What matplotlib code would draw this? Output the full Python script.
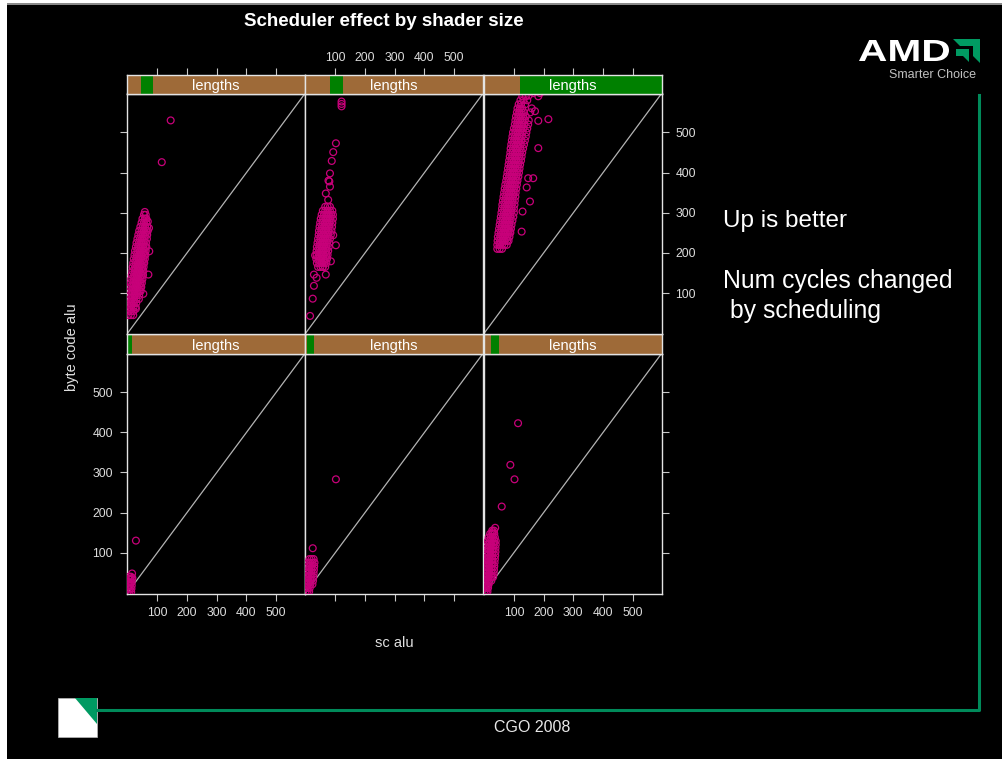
import matplotlib
matplotlib.use('Agg')
import matplotlib.pyplot as plt
from matplotlib.patches import Rectangle, Polygon, PathPatch
from matplotlib.textpath import TextPath
from matplotlib.font_manager import FontProperties
from matplotlib.transforms import Affine2D

plt.rcParams['font.family'] = ['Liberation Sans', 'DejaVu Sans']

# --- data (sc alu, byte code alu), one block per panel ---
# rows: (byte code alu, [sc alu values at that height])
# panel order follows lattice: bottom-left, bottom-mid, bottom-right, top-left, top-mid, top-right
p1_rows = [(2, [0, 6, 12]), (10, [1, 7, 13]), (18, [2, 8, 14]), (26, [2, 8, 14]),
           (34, [3, 9, 14]), (40, [5, 11])]
p1_extra_x = [28, 15, 16]
p1_extra_y = [130, 48, 37]

p2_rows = [(3, [0, 6, 12]), (12, [1, 7, 14]), (21, [2, 9, 16, 23]), (30, [3, 10, 17, 25]),
           (39, [4, 11, 18, 26]), (48, [5, 12, 19, 27]), (57, [6, 13, 20, 28]),
           (66, [7, 14, 21, 29]), (75, [9, 16, 23, 30]), (84, [13, 20, 27])]
p2_extra_x = [102, 24]
p2_extra_y = [283, 111]

p3_rows = [(3, [0, 6, 11]), (12, [1, 7, 13]), (21, [1, 8, 15]), (30, [2, 9, 16, 24]),
           (39, [2, 9, 16, 24, 30]), (48, [3, 10, 17, 25, 32]), (57, [3, 10, 17, 25, 33]),
           (66, [4, 11, 18, 26, 34]), (75, [5, 12, 19, 27, 35]), (84, [5, 12, 19, 27, 36]),
           (93, [6, 13, 20, 28, 37]), (102, [7, 14, 21, 29, 38]), (111, [8, 15, 22, 30, 38]),
           (120, [10, 17, 24, 32, 39]), (129, [12, 19, 26, 34, 39]), (138, [15, 22, 29, 36]),
           (147, [20, 27, 34]), (155, [27, 33])]
p3_extra_x = [114, 88, 102, 59, 37, 28, 13]
p3_extra_y = [423, 319, 283, 215, 162, 151, 18]

p4_rows = [(45, [3, 11, 19]), (55, [4, 12, 20]), (65, [4, 12, 20, 27]),
           (75, [5, 13, 21, 29]), (85, [6, 14, 22, 30, 38]), (95, [7, 15, 23, 31, 39]),
           (105, [8, 16, 24, 32, 40, 44]), (115, [9, 17, 25, 33, 41, 46]),
           (125, [11, 19, 27, 35, 43, 48]), (135, [12, 20, 28, 36, 44, 50]),
           (145, [14, 22, 30, 38, 46, 52]), (155, [16, 24, 32, 40, 48, 53]),
           (165, [17, 25, 33, 41, 49, 54]), (175, [19, 27, 35, 43, 51, 56]),
           (185, [21, 29, 37, 45, 53, 58]), (195, [23, 31, 39, 47, 55, 60]),
           (205, [25, 33, 41, 49, 57, 61]), (215, [28, 36, 44, 52, 60, 63]),
           (225, [30, 38, 46, 54, 62]), (235, [33, 41, 49, 57, 65]),
           (245, [36, 44, 52, 60, 66]), (255, [39, 47, 55, 63, 68]),
           (265, [43, 51, 59, 66]), (275, [47, 55, 63]), (285, [50, 58, 63]),
           (295, [55, 61]), (302, [58])]
p4_extra_x = [145, 115, 73, 70, 53, 28, 72, 68]
p4_extra_y = [530, 426, 204, 146, 98, 61, 262, 278]

p5_rows = [(165, [42, 50, 58, 66]), (175, [38, 46, 54, 62, 70]),
           (185, [36, 44, 52, 60, 68, 72]), (195, [37, 45, 53, 61, 69, 74]),
           (205, [37, 45, 53, 61, 69, 76]), (215, [38, 46, 54, 62, 70, 78]),
           (225, [40, 48, 56, 64, 72, 80]), (235, [42, 50, 58, 66, 74, 82]),
           (245, [44, 52, 60, 68, 76, 85]), (255, [45, 53, 61, 69, 77, 87]),
           (265, [47, 55, 63, 71, 79, 89]), (275, [49, 57, 65, 73, 81, 90]),
           (285, [51, 59, 67, 75, 83, 92]), (295, [54, 62, 70, 78, 86, 92]),
           (305, [58, 66, 74, 82, 90]), (315, [66, 74, 82])]
p5_extra_x = [121, 121, 121, 102, 93, 88, 82, 77, 80, 82, 68, 76,
              102, 85, 68, 37, 28, 28, 24, 15, 93, 57, 32]
p5_extra_y = [577, 571, 565, 473, 451, 429, 398, 380, 378, 365, 348, 332,
              219, 179, 146, 138, 146, 118, 86, 43, 244, 165, 194]

p6_rows = [(210, [44, 52, 60]), (220, [44, 52, 60, 68, 76]),
           (230, [45, 53, 61, 69, 77, 82]), (240, [46, 54, 62, 70, 78, 85]),
           (250, [48, 56, 64, 72, 80, 88]), (260, [50, 58, 66, 74, 82, 90]),
           (270, [52, 60, 68, 76, 84, 92]), (280, [54, 62, 70, 78, 86, 95]),
           (290, [56, 64, 72, 80, 88, 98]), (300, [58, 66, 74, 82, 90, 100]),
           (310, [60, 68, 76, 84, 92, 100]), (320, [61, 69, 77, 85, 93, 102]),
           (330, [63, 71, 79, 87, 95, 103]), (340, [65, 73, 81, 89, 97, 105]),
           (350, [67, 75, 83, 91, 99, 106]), (360, [69, 77, 85, 93, 101, 108]),
           (370, [71, 79, 87, 95, 103, 110]), (380, [74, 82, 90, 98, 106, 112]),
           (390, [76, 84, 92, 100, 108, 115]), (400, [78, 86, 94, 102, 110, 117]),
           (410, [80, 88, 96, 104, 112, 119]), (420, [82, 90, 98, 106, 114, 121]),
           (430, [84, 92, 100, 108, 116, 124]), (440, [86, 94, 102, 110, 118, 126]),
           (450, [88, 96, 104, 112, 120, 128]), (460, [89, 97, 105, 113, 121, 131]),
           (470, [91, 99, 107, 115, 123, 134]), (480, [93, 101, 109, 117, 125, 137]),
           (490, [95, 103, 111, 119, 127, 140]), (500, [97, 105, 113, 121, 129, 142]),
           (510, [100, 108, 116, 124, 132, 145]), (520, [103, 111, 119, 127, 135, 148]),
           (530, [105, 113, 121, 129, 137, 150]), (540, [107, 115, 123, 131, 140]),
           (550, [110, 118, 126, 134, 155]), (560, [112, 120, 128, 160]),
           (570, [116, 124, 138]), (580, [122, 132, 145]), (590, [128, 140])]
p6_extra_x = [216, 182, 182, 165, 148, 143, 154, 126, 129, 87, 171, 165, 182, 150, 188]
p6_extra_y = [533, 461, 529, 386, 386, 363, 328, 253, 303, 253, 553, 598, 590, 592, 598]

# shingle ("lengths") interval shown in each strip, as fraction of the strip
shingle_lo = [0.0, 0.013, 0.041, 0.081, 0.140, 0.205]
shingle_hi = [0.026, 0.049, 0.087, 0.145, 0.213, 1.0]

ticks = [100, 200, 300, 400, 500]
lims = (-2, 597)

W, H = 1003, 759
fig = plt.figure(figsize=(W / 100, H / 100), dpi=100, facecolor='white')
pix = Affine2D().scale(1.0 / W, -1.0 / H).translate(0, 1) + fig.transFigure


def px_axes(left, top, width, height):
    return fig.add_axes([left / W, 1 - (top + height) / H, width / W, height / H])


# slide background
fig.add_artist(Rectangle((7, 4), W - 7, H - 4, transform=pix, facecolor='black',
                         edgecolor='none', zorder=0))
fig.add_artist(Rectangle((7, 3), W - 7, 1.5, transform=pix, facecolor='#8a8a8a',
                         edgecolor='none', zorder=0))

mag = '#c8007a'
brown = '#9e6a38'
frame = '#e4e4e4'
tickc = '#c8c8c8'
labc = '#dcdcdc'

all_rows = [p1_rows, p2_rows, p3_rows, p4_rows, p5_rows, p6_rows]
all_ex = [p1_extra_x, p2_extra_x, p3_extra_x, p4_extra_x, p5_extra_x, p6_extra_x]
all_ey = [p1_extra_y, p2_extra_y, p3_extra_y, p4_extra_y, p5_extra_y, p6_extra_y]

col_left = [127, 305, 483.6]
col_w = 178.0
# (strip top, panel top, panel height) for bottom row then top row
rows_geom = [(334, 353.5, 240.0), (75, 93.5, 240.5)]

for i in range(6):
    r = i // 3
    c = i % 3
    st, pt, ph = rows_geom[r]
    ax = px_axes(col_left[c], pt, col_w, ph)
    sx = px_axes(col_left[c], st, col_w, pt - st)

    # scatter
    xs, ys = [], []
    for yv, xv in all_rows[i]:
        for xx in xv:
            xs.append(xx)
            ys.append(yv)
    xs += all_ex[i]
    ys += all_ey[i]
    ax.set_facecolor('black')
    ax.scatter(xs, ys, s=24, facecolors='none', edgecolors=mag, linewidths=0.9, zorder=3)
    ax.axline((0, 0), slope=1, color='#b4b4b4', lw=0.9, zorder=2)
    ax.set_xlim(lims)
    ax.set_ylim(lims)
    ax.set_xticks(ticks)
    ax.set_yticks(ticks)
    for sp in ax.spines.values():
        sp.set_color(frame)
        sp.set_linewidth(1.0)
    ax.tick_params(direction='out', length=5, width=0.8, color=tickc, labelcolor=labc,
                   labelsize=8.8, pad=5,
                   bottom=(r == 0), labelbottom=(r == 0 and c != 1),
                   left=(c == 0), labelleft=(c == 0 and r == 0),
                   right=(c == 2), labelright=(c == 2 and r == 1),
                   top=False, labeltop=False)

    # strip
    sx.set_facecolor(brown)
    sx.set_xlim(lims)
    sx.set_ylim(0, 1)
    sx.add_patch(Rectangle((shingle_lo[i], 0), shingle_hi[i] - shingle_lo[i], 1,
                           transform=sx.transAxes, facecolor='#008000', edgecolor='none'))
    sx.text(0.5, 0.38, 'lengths', transform=sx.transAxes, ha='center', va='center',
            color='white', fontsize=10.5)
    for sp in sx.spines.values():
        sp.set_color(frame)
        sp.set_linewidth(1.0)
    sx.set_yticks([])
    if r == 1:
        sx.set_xticks(ticks)
        sx.tick_params(axis='x', direction='out', length=5, width=0.8, color=tickc,
                       labelcolor=labc, labelsize=8.8, pad=3,
                       bottom=False, labelbottom=False, top=True, labeltop=(c == 1))
    else:
        sx.set_xticks([])

# titles and labels
fig.text(384 / W, 1 - 22 / H, 'Scheduler effect by shader size', ha='center', va='center',
         color='white', fontsize=13.5, fontweight='bold')
fig.text(72 / W, 1 - 347 / H, 'byte code alu', rotation=90, ha='center', va='center',
         color='#e0e0e0', fontsize=10.5)
fig.text(394 / W, 1 - 643 / H, 'sc alu', ha='center', va='center', color='#e0e0e0',
         fontsize=10.5)

# slide side notes
fig.text(723 / W, 1 - 227 / H, 'Up is better', ha='left', va='baseline', color='white',
         fontsize=17.5)
fig.text(723 / W, 1 - 288 / H, 'Num cycles changed', ha='left', va='baseline', color='white',
         fontsize=17.8)
fig.text(730 / W, 1 - 318 / H, 'by scheduling', ha='left', va='baseline', color='white',
         fontsize=17.8)
fig.text(532 / W, 1 - 728 / H, 'CGO 2008', ha='center', va='center', color='#e8e8e8',
         fontsize=11.5)

# slide decoration: green frame line
green = '#008a5a'
fig.add_artist(plt.Line2D([97, 979, 979], [709.5, 709.5, 95], transform=pix, color=green,
                          lw=2.2))

# bottom-left icon
fig.add_artist(Rectangle((58, 698), 39, 39, transform=pix, facecolor='white',
                         edgecolor='#bbbbbb', lw=0.5))
fig.add_artist(Polygon([(75, 698), (97, 698), (97, 724)], closed=True, transform=pix,
                       facecolor='#009a62', edgecolor='none'))

# AMD logo
tp = TextPath((0, 0), 'AMD', size=28, prop=FontProperties(family='Liberation Sans',
                                                          weight='bold'))
bb = tp.get_extents()
tr = Affine2D().translate(-bb.x0, -bb.y0).scale(90.0 / bb.width, -21.0 / bb.height) \
    .translate(859, 61) + pix
fig.add_artist(PathPatch(tp, transform=tr, facecolor='white', edgecolor='none'))
fig.add_artist(Polygon([(953, 39), (980, 39), (980, 63), (973, 56), (973, 46), (960, 46)],
                       closed=True, transform=pix, facecolor='#009a62', edgecolor='none'))
fig.add_artist(Polygon([(956, 49), (969, 49), (969, 62), (963, 56), (956, 56)],
                       closed=True, transform=pix, facecolor='#009a62', edgecolor='none'))
fig.text(976 / W, 1 - 75 / H, 'Smarter Choice', ha='right', va='center', color='#c0c0c0',
         fontsize=9)

fig.savefig('out.png', dpi=100, facecolor=fig.get_facecolor())
